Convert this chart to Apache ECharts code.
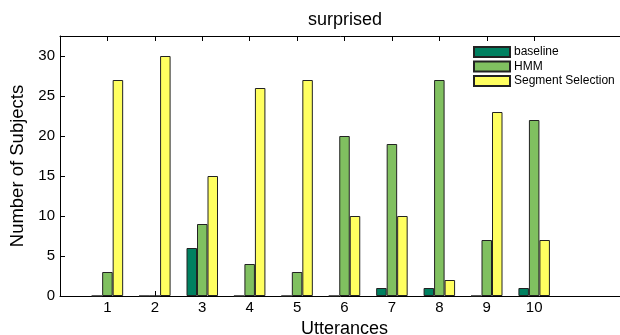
<!DOCTYPE html>
<html>
<head>
<meta charset="utf-8">
<script src="https://cdn.jsdelivr.net/npm/echarts@6/dist/echarts.min.js"></script>
<style>html,body{margin:0;padding:0;background:#fff;}#c{width:620px;height:335px;}</style>
</head>
<body>
<div id="c"></div>
<script>
var utterances = [1, 2, 3, 4, 5, 6, 7, 8, 9, 10];
var baseline = [0, 0, 6, 0, 0, 0, 1, 1, 0, 1];
var hmm = [3, 0, 9, 4, 3, 20, 19, 27, 7, 22];
var segmentSelection = [27, 30, 15, 26, 27, 10, 10, 2, 23, 7];
var yTicks = [0, 5, 10, 15, 20, 25, 30];

function pairs(vals) { return utterances.map(function (u, i) { return [u, vals[i]]; }); }
var font = 'Liberation Sans, Arial, sans-serif';
var chart = echarts.init(document.getElementById('c'), null, { renderer: 'canvas' });
var barStyle = function (c) { return { color: c, borderColor: '#222', borderWidth: 1 }; };
chart.setOption({
  animation: false,
  backgroundColor: '#fff',
  title: {
    text: 'surprised', left: 345, textAlign: 'center', top: 11, padding: 0,
    textStyle: { fontFamily: font, fontSize: 18, fontWeight: 'normal', color: '#000' }
  },
  legend: {
    orient: 'vertical', left: 473, top: 46, padding: 0, itemWidth: 36, itemHeight: 10, itemGap: 2.5,
    icon: 'rect',
    textStyle: { fontFamily: font, fontSize: 12, lineHeight: 12, color: '#000', padding: [0, 0, 0, -1] },
    data: ['baseline', 'HMM', 'Segment Selection']
  },
  grid: { left: 60, top: 36, width: 569, bottom: 39, containLabel: false, outerBoundsMode: 'none' },
  xAxis: [{
    type: 'value', min: 0, max: 12, interval: 1, position: 'bottom',
    name: 'Utterances', nameLocation: 'middle', nameGap: 18,
    nameTextStyle: { fontFamily: font, fontSize: 18, color: '#000' },
    axisLine: { lineStyle: { color: '#000', width: 1 } },
    axisTick: { inside: true, length: 5, lineStyle: { color: '#000' }, customValues: utterances },
    axisLabel: { fontFamily: font, fontSize: 15, color: '#000', margin: 4, customValues: utterances },
    splitLine: { show: false }
  }, {
    type: 'value', min: 0, max: 12, interval: 1, position: 'top',
    axisLine: { lineStyle: { color: '#000', width: 1 } },
    axisTick: { inside: true, length: 5, lineStyle: { color: '#000' }, customValues: utterances },
    axisLabel: { show: false },
    splitLine: { show: false }
  }],
  yAxis: {
    type: 'value', min: 0, max: 32.5, interval: 5,
    name: 'Number of Subjects', nameLocation: 'middle', nameGap: 31,
    nameTextStyle: { fontFamily: font, fontSize: 18.5, color: '#000' },
    axisLine: { show: true, lineStyle: { color: '#000', width: 1 } },
    axisTick: { inside: true, length: 5, lineStyle: { color: '#000' }, customValues: yTicks },
    axisLabel: { fontFamily: font, fontSize: 15, color: '#000', margin: 5, customValues: yTicks },
    splitLine: { show: false }
  },
  series: [
    { name: 'baseline', type: 'bar', data: pairs(baseline), barWidth: 10.5, barGap: '0%', itemStyle: barStyle('#008060') },
    { name: 'HMM', type: 'bar', data: pairs(hmm), barWidth: 10.5, barGap: '0%', itemStyle: barStyle('#80c060') },
    { name: 'Segment Selection', type: 'bar', data: pairs(segmentSelection), barWidth: 10.5, barGap: '0%', itemStyle: barStyle('#ffff60') }
  ]
});
</script>
</body>
</html>
